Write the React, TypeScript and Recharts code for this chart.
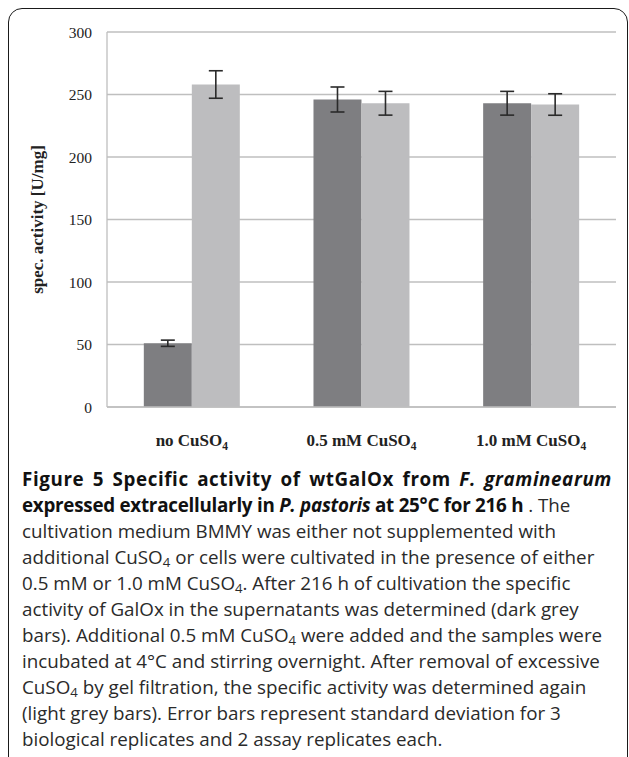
import React from "react";
import { BarChart, Bar, XAxis, YAxis, CartesianGrid, ErrorBar } from "recharts";

const categories = ["no CuSO", "0.5 mM CuSO", "1.0 mM CuSO"];
const darkValues = [51, 246, 243];
const darkErrors = [2.5, 10, 9.5];
const lightValues = [258, 243, 242];
const lightErrors = [11, 9.5, 8.6];
const yTicks = [0, 50, 100, 150, 200, 250, 300];

const data = categories.map((name, i) => ({
  name,
  dark: darkValues[i],
  darkErr: darkErrors[i],
  light: lightValues[i],
  lightErr: lightErrors[i],
}));

const serif = "'Liberation Serif', 'Times New Roman', serif";
const sans = "'Open Sans', 'Noto Sans', sans-serif";

function XTick(props: any) {
  const { x, y, payload } = props;
  return (
    <text
      x={x}
      y={y}
      dy={31}
      textAnchor="middle"
      fontFamily={serif}
      fontWeight="bold"
      fontSize={17}
      fill="#222"
    >
      <tspan>{payload.value}</tspan>
      <tspan fontSize={11.5} dy={4}>4</tspan>
    </text>
  );
}

const Sub = ({ children }: { children: React.ReactNode }) => (
  <span style={{ fontSize: "0.7em", verticalAlign: "-0.25em", lineHeight: 0 }}>{children}</span>
);

const CuSO4 = () => (
  <>
    CuSO<Sub>4</Sub>
  </>
);

export default function App() {
  return (
    <div
      style={{
        position: "absolute",
        left: 0,
        top: 0,
        width: 629,
        height: 757,
        overflow: "hidden",
        background: "#fff",
      }}
    >
      <div
        style={{
          position: "absolute",
          left: 8,
          top: 8,
          width: 618,
          height: 800,
          border: "1.5px solid #1a1a1a",
          borderRadius: 14,
        }}
      />
      <div style={{ position: "absolute", left: 0, top: 0 }}>
        <BarChart
          width={629}
          height={460}
          data={data}
          margin={{ top: 32, right: 13, bottom: 8, left: 0 }}
          barCategoryGap="21.7%"
          barGap={0}
        >
          <CartesianGrid vertical={false} stroke="#bfbfbf" strokeWidth={1.3} />
          <XAxis
            dataKey="name"
            axisLine={{ stroke: "#bfbfbf", strokeWidth: 1.3 }}
            tickLine={false}
            height={45}
            tick={<XTick />}
            interval={0}
          />
          <YAxis
            width={107}
            domain={[0, 300]}
            ticks={yTicks}
            axisLine={{ stroke: "#bfbfbf", strokeWidth: 1.3 }}
            tickLine={false}
            tickMargin={9}
            tick={{ fontFamily: serif, fontSize: 15.5, fill: "#222" }}
            label={{
              content: ({ viewBox }: any) => {
                const cx = viewBox.x + 37;
                const cy = viewBox.y + viewBox.height / 2;
                return (
                  <text
                    transform={`translate(${cx},${cy}) rotate(-90)`}
                    textAnchor="middle"
                    dominantBaseline="central"
                    fontFamily={serif}
                    fontWeight="bold"
                    fontSize={17}
                    fill="#222"
                  >
                    spec. activity [U/mg]
                  </text>
                );
              },
            }}
          />
          <Bar dataKey="dark" fill="#7e7e81" isAnimationActive={false}>
            <ErrorBar dataKey="darkErr" width={7} stroke="#2a2a2a" strokeWidth={1.6} />
          </Bar>
          <Bar dataKey="light" fill="#bdbdbf" isAnimationActive={false}>
            <ErrorBar dataKey="lightErr" width={7} stroke="#2a2a2a" strokeWidth={1.6} />
          </Bar>
        </BarChart>
      </div>
      <div
        style={{
          position: "absolute",
          left: 22,
          top: 466,
          fontFamily: sans,
          fontSize: 18.8,
          lineHeight: "26px",
          color: "#2a2a2a",
          whiteSpace: "nowrap",
        }}
      >
        <div style={{ fontWeight: 700, letterSpacing: 0.6, wordSpacing: 3, color: "#111" }}>
          Figure 5 Specific activity of wtGalOx from <i>F. graminearum</i>
        </div>
        <div>
          <b style={{ letterSpacing: -0.25, color: "#111" }}>
            expressed extracellularly in <i>P. pastoris</i> at 25°C for 216 h
          </b>{" "}
          . The
        </div>
        <div>cultivation medium BMMY was either not supplemented with</div>
        <div>
          additional <CuSO4 /> or cells were cultivated in the presence of either
        </div>
        <div>
          0.5 mM or 1.0 mM <CuSO4 />. After 216 h of cultivation the specific
        </div>
        <div>activity of GalOx in the supernatants was determined (dark grey</div>
        <div>
          bars). Additional 0.5 mM <CuSO4 /> were added and the samples were
        </div>
        <div>incubated at 4°C and stirring overnight. After removal of excessive</div>
        <div>
          <CuSO4 /> by gel filtration, the specific activity was determined again
        </div>
        <div>(light grey bars). Error bars represent standard deviation for 3</div>
        <div>biological replicates and 2 assay replicates each.</div>
      </div>
    </div>
  );
}
